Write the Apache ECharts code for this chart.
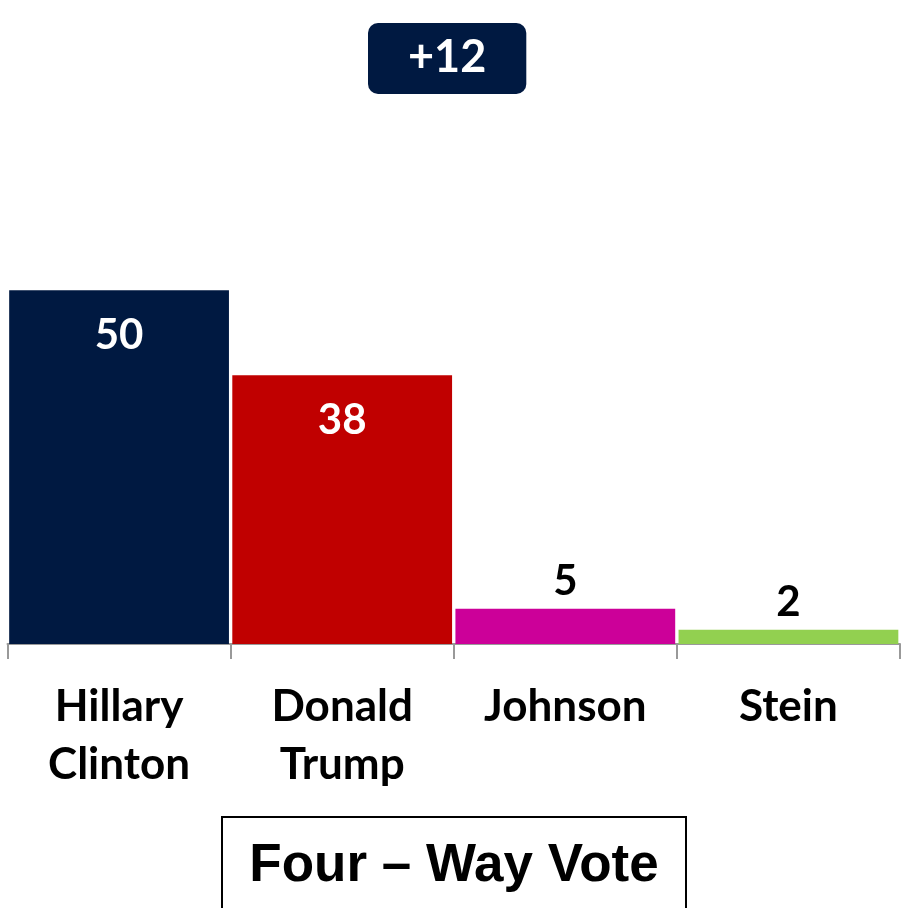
<!DOCTYPE html>
<html><head><meta charset="utf-8">
<script src="https://cdn.jsdelivr.net/npm/echarts@6/dist/echarts.min.js"></script>
<style>html,body{margin:0;padding:0;background:#fff}#c{width:904px;height:908px}</style>
</head><body><div id="c"></div>
<script>
const categories = ["Hillary\nClinton", "Donald\nTrump", "Johnson", "Stein"];
const values = [50, 38, 5, 2];
const barColors = ["#001941", "#C00000", "#CC0099", "#92D050"];
const labelInside = [true, true, false, false];
const marginText = "+12";
const boxText = "Four – Way Vote";

const chart = echarts.init(document.getElementById('c'));
const font = "Lato, 'Open Sans', sans-serif";
chart.setOption({
  animation: false,
  title: {
    text: marginText, left: 368, top: 23,
    backgroundColor: '#001941', borderRadius: 10,
    padding: [10, 40, 12, 40],
    textStyle: {color: '#fff', fontSize: 45, fontWeight: 'bold', fontFamily: font, lineHeight: 49}
  },
  grid: {left: 7.5, right: 4, top: 78, bottom: 908 - 644, containLabel: false},
  xAxis: {
    type: 'category', data: categories,
    axisLine: {lineStyle: {color: '#999', width: 2}},
    axisTick: {show: true, length: 15, lineStyle: {color: '#999', width: 2}},
    axisLabel: {color: '#000', fontSize: 44, fontWeight: 'bold', fontFamily: font, lineHeight: 58, margin: 34, interval: 0}
  },
  yAxis: {type: 'value', min: 0, max: 80, show: false, splitLine: {show: false}},
  series: [{
    type: 'bar', barCategoryGap: '1.5%',
    data: values.map((v, i) => ({
      value: v,
      itemStyle: {color: barColors[i]},
      label: labelInside[i]
        ? {position: 'insideTop', distance: 24, color: '#fff'}
        : {position: 'top', distance: 6, color: '#000'}
    })),
    label: {show: true, fontSize: 42, fontWeight: 'bold', fontFamily: font}
  }],
  graphic: [
    {type: 'rect', shape: {x: 222, y: 817, width: 464, height: 100},
     style: {fill: '#fff', stroke: '#000', lineWidth: 2}},
    {type: 'text', x: 454, y: 866,
     style: {text: boxText, fontSize: 53, fontWeight: 'bold', fontFamily: "'Liberation Sans', Arial, sans-serif",
       fill: '#000', align: 'center', verticalAlign: 'middle'}}
  ]
});
</script></body></html>
